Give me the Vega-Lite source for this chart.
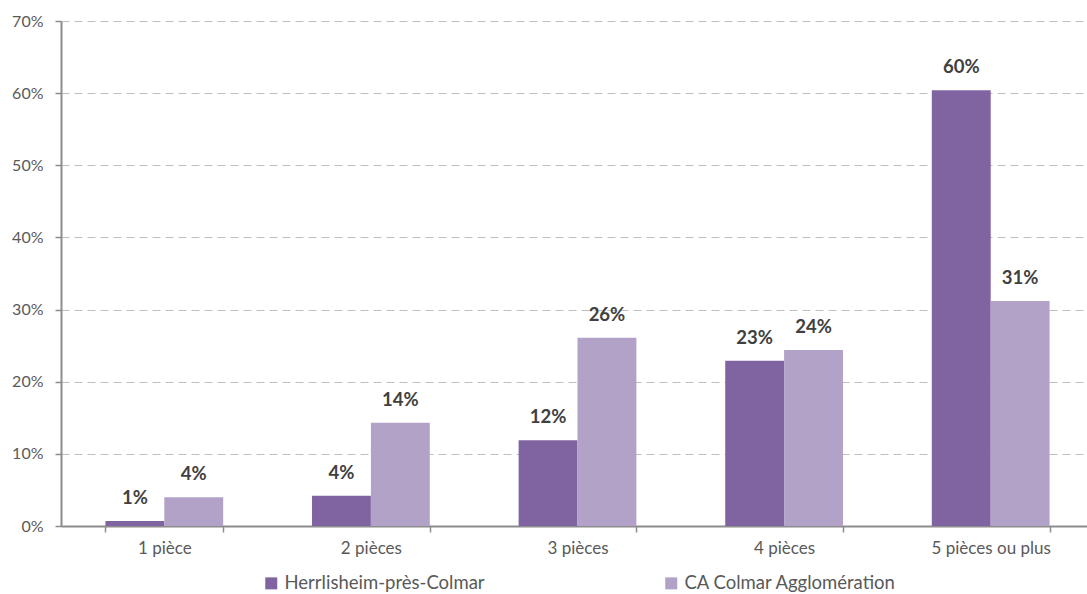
{
  "$schema": "https://vega.github.io/schema/vega-lite/v6.json",
  "autosize": "none",
  "width": 1026,
  "height": 505,
  "padding": {"left": 61, "top": 21, "right": 0, "bottom": 68},
  "background": "white",
  "config": {"view": {"stroke": null}, "font": "Lato"},
  "data": {
    "values": [
      {"cat": "1 pièce", "zone": "Herrlisheim-près-Colmar", "v": 0.007},
      {"cat": "1 pièce", "zone": "CA Colmar Agglomération", "v": 0.040},
      {"cat": "2 pièces", "zone": "Herrlisheim-près-Colmar", "v": 0.042},
      {"cat": "2 pièces", "zone": "CA Colmar Agglomération", "v": 0.143},
      {"cat": "3 pièces", "zone": "Herrlisheim-près-Colmar", "v": 0.119},
      {"cat": "3 pièces", "zone": "CA Colmar Agglomération", "v": 0.261},
      {"cat": "4 pièces", "zone": "Herrlisheim-près-Colmar", "v": 0.229},
      {"cat": "4 pièces", "zone": "CA Colmar Agglomération", "v": 0.244},
      {"cat": "5 pièces ou plus", "zone": "Herrlisheim-près-Colmar", "v": 0.604},
      {"cat": "5 pièces ou plus", "zone": "CA Colmar Agglomération", "v": 0.312}
    ]
  },
  "encoding": {
    "x": {
      "field": "cat",
      "type": "nominal",
      "sort": ["1 pièce", "2 pièces", "3 pièces", "4 pièces", "5 pièces ou plus"],
      "scale": {"paddingInner": 0.43, "paddingOuter": 0.215, "range": [0, 1033]},
      "axis": {
        "title": null,
        "labelAngle": 0,
        "labelFontSize": 17,
        "labelColor": "#595959",
        "labelPadding": 8,
        "domainColor": "#8c8c8c",
        "domainWidth": 2,
        "ticks": true,
        "tickBand": "extent",
        "tickSize": 6,
        "tickColor": "#8c8c8c",
        "tickWidth": 1.5,
        "grid": false
      }
    },
    "xOffset": {"field": "zone", "sort": ["Herrlisheim-près-Colmar", "CA Colmar Agglomération"]},
    "y": {
      "field": "v",
      "type": "quantitative",
      "scale": {"domain": [0, 0.7]},
      "axis": {
        "title": null,
        "values": [0, 0.1, 0.2, 0.3, 0.4, 0.5, 0.6, 0.7],
        "format": ".0%",
        "labelFontSize": 16,
        "labelColor": "#595959",
        "labelPadding": 12,
        "domainColor": "#8c8c8c",
        "domainWidth": 2,
        "tickColor": "#8c8c8c",
        "tickWidth": 1.5,
        "tickSize": 6,
        "grid": true,
        "gridColor": "#bfbfbf",
        "gridDash": [8, 5],
        "gridWidth": 1
      }
    }
  },
  "layer": [
    {
      "mark": {"type": "bar"},
      "encoding": {
        "color": {
          "field": "zone",
          "type": "nominal",
          "sort": ["Herrlisheim-près-Colmar", "CA Colmar Agglomération"],
          "scale": {"domain": ["Herrlisheim-près-Colmar", "CA Colmar Agglomération"], "range": ["#8064A2", "#B3A2C7"]},
          "legend": {
            "title": null,
            "orient": "none",
            "legendX": 201,
            "legendY": 553,
            "direction": "horizontal",
            "symbolType": "square",
            "symbolSize": 144,
            "symbolStrokeWidth": 0,
            "labelFontSize": 18.5,
            "labelColor": "#595959",
            "labelOffset": 4,
            "columnPadding": 177,
            "labelLimit": 400
          }
        }
      }
    },
    {
      "mark": {"type": "text", "baseline": "middle", "dy": -23, "fontWeight": "bold", "fontSize": 18.5, "color": "#404040"},
      "encoding": {
        "text": {"field": "v", "type": "quantitative", "format": ".0%"}
      }
    }
  ]
}
